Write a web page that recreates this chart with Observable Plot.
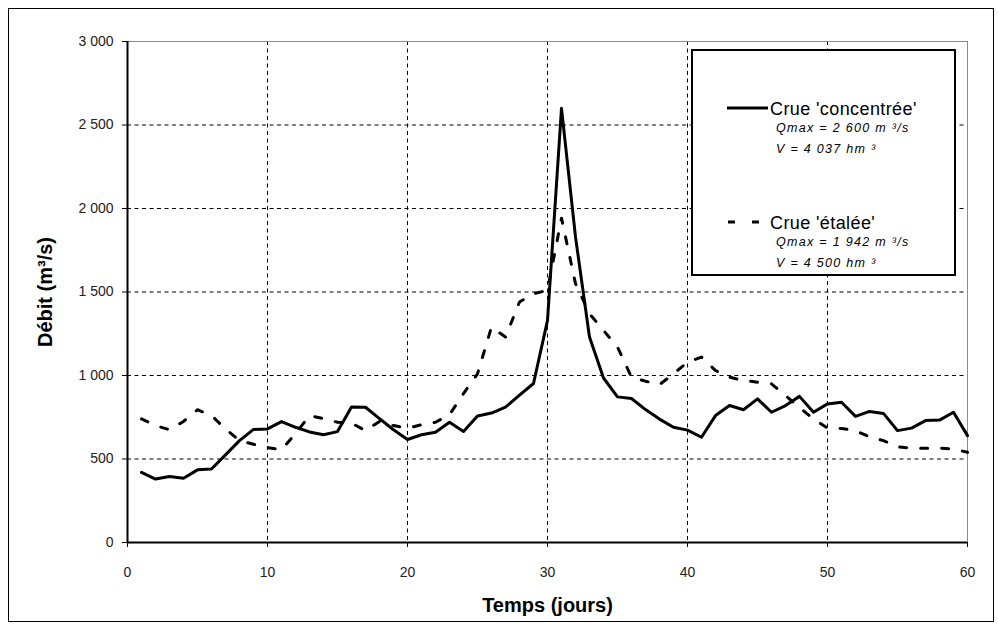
<!DOCTYPE html>
<html><head><meta charset="utf-8">
<script src="https://cdn.jsdelivr.net/npm/d3@7"></script>
<script src="https://cdn.jsdelivr.net/npm/@observablehq/plot@0.6"></script>
<style>
body{margin:0;background:#fff;}
#wrap{position:relative;width:998px;height:630px;font-family:"Liberation Sans",Arial,sans-serif;background:#fff;}
#frame{position:absolute;left:8px;top:8px;width:984px;height:612px;border:1.5px solid #000;pointer-events:none;}
#legend{position:absolute;left:691px;top:49px;}
</style></head><body>
<div id="wrap"><div id="frame"></div></div>
<script>
const days = d3.range(1, 61);
const concentree = [420,380,395,385,435,440,525,610,677,680,
  724,690,662,645,664,811,810,742,675,617,
  645,660,720,665,757,775,810,882,952,1330,
  2600,1830,1230,985,872,862,796,739,690,673,
  630,760,820,795,860,780,820,875,780,830,
  840,755,785,773,670,685,730,733,780,640];
const etalee = [740,700,675,725,795,760,680,610,588,568,
  556,652,760,742,720,715,670,725,700,685,
  705,720,765,892,1010,1290,1230,1440,1490,1510,
  1942,1550,1370,1270,1170,990,966,945,1010,1080,
  1110,1030,990,970,960,950,880,808,740,685,
  683,670,633,610,573,565,565,565,560,540];
const seriesNames = ["Crue 'concentrée'", "Crue 'étalée'"];
const qmaxLabels = ["Qmax = 2 600 m \u00b3/s", "Qmax = 1 942 m \u00b3/s"];
const volLabels = ["V = 4 037 hm \u00b3", "V = 4 500 hm \u00b3"];
const yTicks = [0, 500, 1000, 1500, 2000, 2500, 3000];
const xTicks = [0, 10, 20, 30, 40, 50, 60];
const gridXVals = [10, 20, 30, 40, 50];
const gridYVals = [500, 1000, 1500, 2000, 2500];

const data = days.map((d, i) => ({day: d, concentree: concentree[i], etalee: etalee[i]}));
const fmt = d => d >= 1000 ? String(Math.floor(d / 1000)) + "\u00a0" + String(d % 1000).padStart(3, "0") : String(d);

const chart = Plot.plot({
  width: 998, height: 630,
  marginLeft: 127, marginRight: 31, marginTop: 41, marginBottom: 88,
  x: {domain: [0, 60]},
  y: {domain: [0, 3000]},
  style: {fontFamily: "'Liberation Sans', Arial, sans-serif", background: "transparent", color: "#000"},
  marks: [
    Plot.gridX(gridXVals, {stroke: "#000", strokeOpacity: 1, strokeWidth: 1, strokeDasharray: "4,3.5"}),
    Plot.gridY(gridYVals, {stroke: "#000", strokeOpacity: 1, strokeWidth: 1, strokeDasharray: "4,3.5"}),
    Plot.ruleY([3000], {stroke: "#8c8c8c", strokeWidth: 1}),
    Plot.ruleX([60], {stroke: "#8c8c8c", strokeWidth: 1}),
    Plot.axisY({ticks: yTicks, tickFormat: fmt, tickSize: 5, tickPadding: 9, fontSize: 14, label: null, fill: "#222"}),
    Plot.axisX({ticks: xTicks, tickSize: 5, tickPadding: 20, fontSize: 14, label: null, fill: "#222"}),
    Plot.ruleX([0], {stroke: "#000", strokeWidth: 2}),
    Plot.ruleY([0], {stroke: "#000", strokeWidth: 2}),
    Plot.line(data, {x: "day", y: "etalee", stroke: "#000", strokeWidth: 3, strokeDasharray: "7,14"}),
    Plot.line(data, {x: "day", y: "concentree", stroke: "#000", strokeWidth: 3}),
    Plot.text(["Débit (m³/s)"], {text: d => d, frameAnchor: "left", dx: -82, rotate: -90, textAnchor: "middle", lineAnchor: "middle", fontWeight: "bold", fontSize: 20, letterSpacing: 1.2}),
    Plot.text(["Temps (jours)"], {text: d => d, frameAnchor: "bottom", dy: 63, lineAnchor: "middle", textAnchor: "middle", fontWeight: "bold", fontSize: 20, letterSpacing: 1.2})
  ]
});
const wrap = document.getElementById("wrap");
wrap.insertBefore(chart, wrap.firstChild);

// legend
const lg = d3.select("#wrap").append("svg").attr("id", "legend")
  .attr("width", 266).attr("height", 228)
  .style("font-family", "'Liberation Sans', Arial, sans-serif");
lg.append("rect").attr("x", 1).attr("y", 1).attr("width", 263).attr("height", 225)
  .attr("fill", "#fff").attr("stroke", "#000").attr("stroke-width", 2);
const rows = [
  {dash: null, y: 59, x1: 36, x2: 77},
  {dash: "7,17", y: 173, x1: 37, x2: 68}
];
rows.forEach((r, i) => {
  lg.append("line").attr("x1", r.x1).attr("x2", r.x2).attr("y1", r.y).attr("y2", r.y)
    .attr("stroke", "#000").attr("stroke-width", 3).attr("stroke-dasharray", r.dash);
  lg.append("text").attr("x", 79).attr("y", r.y + 7).attr("font-size", 18)
    .attr("letter-spacing", 0.4).text(seriesNames[i]);
  lg.append("text").attr("x", 85).attr("y", r.y + 24).attr("font-size", 12.5)
    .attr("font-style", "italic").attr("letter-spacing", 1.3).text(qmaxLabels[i]);
  lg.append("text").attr("x", 85).attr("y", r.y + 45).attr("font-size", 12.5)
    .attr("font-style", "italic").attr("letter-spacing", 1.3).text(volLabels[i]);
});
</script>
</body></html>
